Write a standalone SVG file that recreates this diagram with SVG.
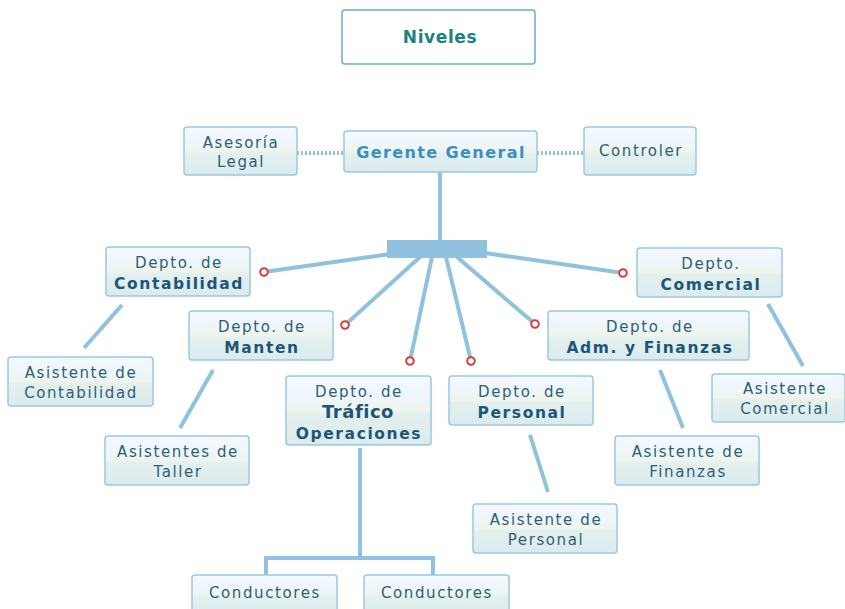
<svg xmlns="http://www.w3.org/2000/svg" width="845" height="609" viewBox="0 0 845 609">
<defs>
<linearGradient id="g" x1="0" y1="0" x2="0" y2="1">
<stop offset="0" stop-color="#f4f9fe"/>
<stop offset="0.3" stop-color="#eef6fb"/>
<stop offset="0.5" stop-color="#eef5ec"/>
<stop offset="0.55" stop-color="#e3f0ee"/>
<stop offset="1" stop-color="#dbebed"/>
</linearGradient>
</defs>
<style>
.n{fill:url(#g);stroke:#9cc8e2;stroke-width:1.5}
.t{font-family:"DejaVu Sans",Verdana,sans-serif;font-size:15px;fill:#2f5f76;text-anchor:middle;letter-spacing:1.6px}
.b{font-weight:bold;fill:#1d5677;font-size:15.5px}
.c{stroke:#90c2e0;stroke-width:4;fill:none}
.d{stroke:#90c2e0;stroke-width:4;fill:none;stroke-dasharray:2 2}
.k{fill:#fff;stroke:#d04040;stroke-width:2}
</style>
<rect width="845" height="609" fill="#fff"/>
<g id="connectors">
<path class="d" d="M297 153H344M537 153H584"/>
<path class="c" d="M440 172V242"/>
<rect x="387" y="240" width="100" height="18" fill="#90c2e0"/>
<path class="c" d="M390 254L264 272M485 253L623 273M420 257L345 325M457 257L535 324M432 257L410 361M446 257L471 361"/>
<path class="c" d="M122 305L84 348M213 370L180 428M768 304L803 366M660 370L683 428M530 435L548 492"/>
<path class="c" d="M360 448V558M266 558H433M266 556V576M433 556V576" stroke-width="3"/>
<circle class="k" cx="264" cy="272" r="3.8"/>
<circle class="k" cx="623" cy="273" r="3.8"/>
<circle class="k" cx="345" cy="325" r="3.8"/>
<circle class="k" cx="535" cy="324" r="3.8"/>
<circle class="k" cx="410" cy="361" r="3.8"/>
<circle class="k" cx="471" cy="361" r="3.8"/>
</g>
<g id="niveles">
<rect x="342" y="10" width="193" height="54" rx="3" fill="#fff" stroke="#6aaad4" stroke-width="1.5"/>
<text x="440" y="43" class="t" style="font-weight:bold;fill:#1a8282;font-size:17px;letter-spacing:0.6px">Niveles</text>
</g>
<g id="asesoria">
<rect class="n" x="184" y="127" width="113" height="48" rx="3"/>
<text class="t" x="241" y="148">Asesoría</text>
<text class="t" x="241" y="167">Legal</text>
</g>
<g id="gerente">
<rect class="n" x="344" y="131" width="193" height="41" rx="3"/>
<text class="t b" x="441" y="158" style="fill:#3a8fc0;font-size:16px;letter-spacing:1.4px">Gerente General</text>
</g>
<g id="controler">
<rect class="n" x="584" y="127" width="112" height="48" rx="3"/>
<text class="t" x="641" y="156">Controler</text>
</g>
<g id="contabilidad">
<rect class="n" x="106" y="247" width="144" height="49" rx="3"/>
<text class="t" x="179" y="268">Depto. de</text>
<text class="t b" x="179" y="289">Contabilidad</text>
</g>
<g id="comercial">
<rect class="n" x="637" y="248" width="145" height="49" rx="3"/>
<text class="t" x="711" y="269">Depto.</text>
<text class="t b" x="711" y="290">Comercial</text>
</g>
<g id="manten">
<rect class="n" x="189" y="311" width="144" height="49" rx="3"/>
<text class="t" x="262" y="332">Depto. de</text>
<text class="t b" x="262" y="353">Manten</text>
</g>
<g id="adm">
<rect class="n" x="548" y="311" width="201" height="49" rx="3"/>
<text class="t" x="650" y="332">Depto. de</text>
<text class="t b" x="650" y="353">Adm. y Finanzas</text>
</g>
<g id="trafico">
<rect class="n" x="286" y="376" width="145" height="69" rx="3"/>
<text class="t" x="359" y="397">Depto. de</text>
<text class="t b" x="358" y="418" style="font-size:18px;letter-spacing:0.5px">Tráfico</text>
<text class="t b" x="359" y="439">Operaciones</text>
</g>
<g id="personal">
<rect class="n" x="449" y="376" width="144" height="49" rx="3"/>
<text class="t" x="522" y="397">Depto. de</text>
<text class="t b" x="522" y="418">Personal</text>
</g>
<g id="asis-contabilidad">
<rect class="n" x="8" y="357" width="145" height="49" rx="3"/>
<text class="t" x="81" y="378">Asistente de</text>
<text class="t" x="81" y="398">Contabilidad</text>
</g>
<g id="asis-taller">
<rect class="n" x="105" y="436" width="144" height="49" rx="3"/>
<text class="t" x="178" y="457">Asistentes de</text>
<text class="t" x="178" y="477">Taller</text>
</g>
<g id="asis-comercial">
<rect class="n" x="712" y="374" width="133" height="48" rx="3"/>
<text class="t" x="785" y="394">Asistente</text>
<text class="t" x="785" y="414">Comercial</text>
</g>
<g id="asis-finanzas">
<rect class="n" x="615" y="436" width="144" height="49" rx="3"/>
<text class="t" x="688" y="457">Asistente de</text>
<text class="t" x="688" y="477">Finanzas</text>
</g>
<g id="asis-personal">
<rect class="n" x="473" y="504" width="144" height="49" rx="3"/>
<text class="t" x="546" y="525">Asistente de</text>
<text class="t" x="546" y="545">Personal</text>
</g>
<g id="conductores1">
<rect class="n" x="192" y="575" width="145" height="40" rx="3"/>
<text class="t" x="265" y="598">Conductores</text>
</g>
<g id="conductores2">
<rect class="n" x="364" y="575" width="145" height="40" rx="3"/>
<text class="t" x="437" y="598">Conductores</text>
</g>
</svg>
